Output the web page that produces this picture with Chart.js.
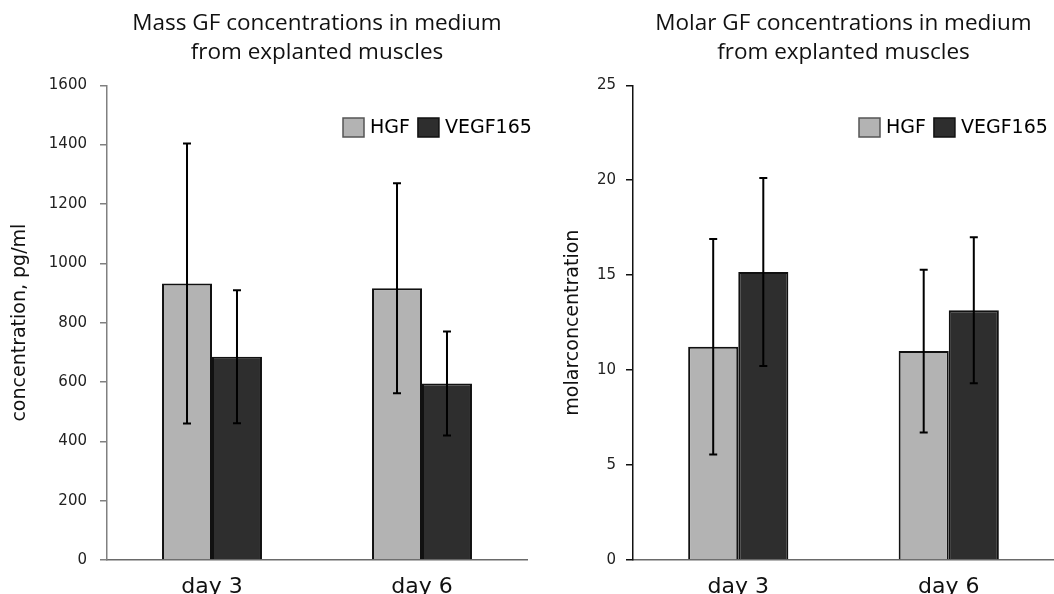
<!DOCTYPE html>
<html>
<head>
<meta charset="utf-8">
<script src="https://cdn.jsdelivr.net/npm/chart.js@4.4.1/dist/chart.umd.min.js"></script>
<style>
  body { margin: 0; background: #fff; }
  #wrap { position: relative; width: 1054px; height: 594px; }
  .panel { position: absolute; top: 0; height: 594px; }
  #left { left: 0; width: 540px; }
  #right { left: 540px; width: 514px; }
</style>
</head>
<body>
<div id="wrap">
  <div class="panel" id="left"><canvas id="massChart"></canvas></div>
  <div class="panel" id="right"><canvas id="molarChart"></canvas></div>
</div>
<script>
// data
const days = ['day 3', 'day 6'];
const seriesNames = ['HGF', 'VEGF165'];
const seriesColors = ['#b3b3b3', '#2e2e2e'];

const hgfMass = [932, 916];
const hgfMassErr = [472, 354];
const vegfMass = [685, 595];
const vegfMassErr = [224, 175];

const hgfMolar = [11.23, 11.0];
const hgfMolarErr = [5.67, 4.28];
const vegfMolar = [15.17, 13.15];
const vegfMolarErr = [4.95, 3.84];

const massTitle = ['Mass GF concentrations in medium', 'from explanted muscles'];
const molarTitle = ['Molar GF concentrations in medium', 'from explanted muscles'];

// error bars drawn through the y scale
const errorBars = {
    id: 'errorBars',
    afterDatasetsDraw(chart) {
        const ctx = chart.ctx;
        const y = chart.scales.y;
        ctx.save();
        ctx.strokeStyle = '#000';
        ctx.lineWidth = 2;
        chart.data.datasets.forEach((ds, i) => {
            const meta = chart.getDatasetMeta(i);
            meta.data.forEach((bar, j) => {
                const v = ds.data[j], e = ds.errors[j];
                const top = y.getPixelForValue(v + e);
                const bot = y.getPixelForValue(v - e);
                ctx.beginPath();
                ctx.moveTo(bar.x, top); ctx.lineTo(bar.x, bot);
                ctx.moveTo(bar.x - 4, top); ctx.lineTo(bar.x + 4, top);
                ctx.moveTo(bar.x - 4, bot); ctx.lineTo(bar.x + 4, bot);
                ctx.stroke();
            });
        });
        ctx.restore();
    }
};

// small boxed legend inside the plot
const boxLegend = {
    id: 'boxLegend',
    afterDraw(chart, args, opts) {
        const ctx = chart.ctx;
        ctx.save();
        ctx.font = '19px "DejaVu Sans"';
        ctx.textBaseline = 'middle';
        let x = opts.x;
        chart.data.datasets.forEach((ds, i) => {
            ctx.fillStyle = ds.backgroundColor;
            ctx.fillRect(x, opts.y, 21, 19);
            ctx.strokeStyle = i === 0 ? '#555' : '#111';
            ctx.lineWidth = 1.5;
            ctx.strokeRect(x, opts.y, 21, 19);
            x += 27;
            ctx.fillStyle = '#000';
            ctx.fillText(ds.label, x, opts.y + 10);
            x += ctx.measureText(ds.label).width + 8;
        });
        ctx.restore();
    }
};

function makeChart(id, title, values, errs, yMax, yStep, yTitle, opt) {
    return new Chart(document.getElementById(id), {
        type: 'bar',
        data: {
            labels: days,
            datasets: [0, 1].map(i => ({
                label: seriesNames[i],
                data: values[i],
                errors: errs[i],
                backgroundColor: seriesColors[i],
                borderColor: '#111',
                borderWidth: 2,
                barPercentage: 1,
                categoryPercentage: 0.476
            }))
        },
        options: {
            responsive: true,
            maintainAspectRatio: false,
            animation: false,
            layout: { padding: { left: 0, right: opt.padRight, top: 0, bottom: 0 } },
            plugins: {
                legend: { display: false },
                tooltip: { enabled: false },
                title: {
                    display: true,
                    text: title,
                    fullSize: false,
                    color: '#111',
                    font: { family: 'Open Sans', size: 22.5, weight: 'normal', lineHeight: 1.25 },
                    padding: { top: 10, bottom: 19 }
                },
                boxLegend: { x: opt.legendX, y: 118 }
            },
            scales: {
                x: {
                    grid: { display: false },
                    border: { display: true, color: '#6a6a6a', width: 1.5 },
                    ticks: { color: '#111', padding: 6, font: { family: 'DejaVu Sans', size: 22 } },
                    afterFit: s => { s.height = 34; }
                },
                y: {
                    min: 0,
                    max: yMax,
                    ticks: {
                        stepSize: yStep,
                        color: '#222',
                        padding: opt.tickPad,
                        font: { family: 'DejaVu Sans', size: 15 },
                        callback: v => String(v)
                    },
                    grid: { display: true, drawOnChartArea: false, drawTicks: true, tickLength: 7, color: opt.axisColor, lineWidth: 1.5 },
                    border: { display: true, color: opt.axisColor, width: 1.5 },
                    title: {
                        display: true,
                        text: yTitle,
                        color: '#111',
                        font: { family: 'DejaVu Sans', size: 19 },
                        padding: { top: opt.titlePad, bottom: 0 }
                    },
                    afterFit: s => { s.width = opt.axisLeft; }
                }
            }
        },
        plugins: [errorBars, boxLegend]
    });
}

makeChart('massChart', massTitle, [hgfMass, vegfMass], [hgfMassErr, vegfMassErr],
    1600, 200, 'concentration, pg/ml',
    { padRight: 13, axisLeft: 107, axisColor: '#808080', tickPad: 13, titlePad: 9, legendX: 343 });

makeChart('molarChart', molarTitle, [hgfMolar, vegfMolar], [hgfMolarErr, vegfMolarErr],
    25, 5, 'molarconcentration',
    { padRight: 0, axisLeft: 93, axisColor: '#111', tickPad: 10, titlePad: 22, legendX: 319 });
</script>
</body>
</html>
